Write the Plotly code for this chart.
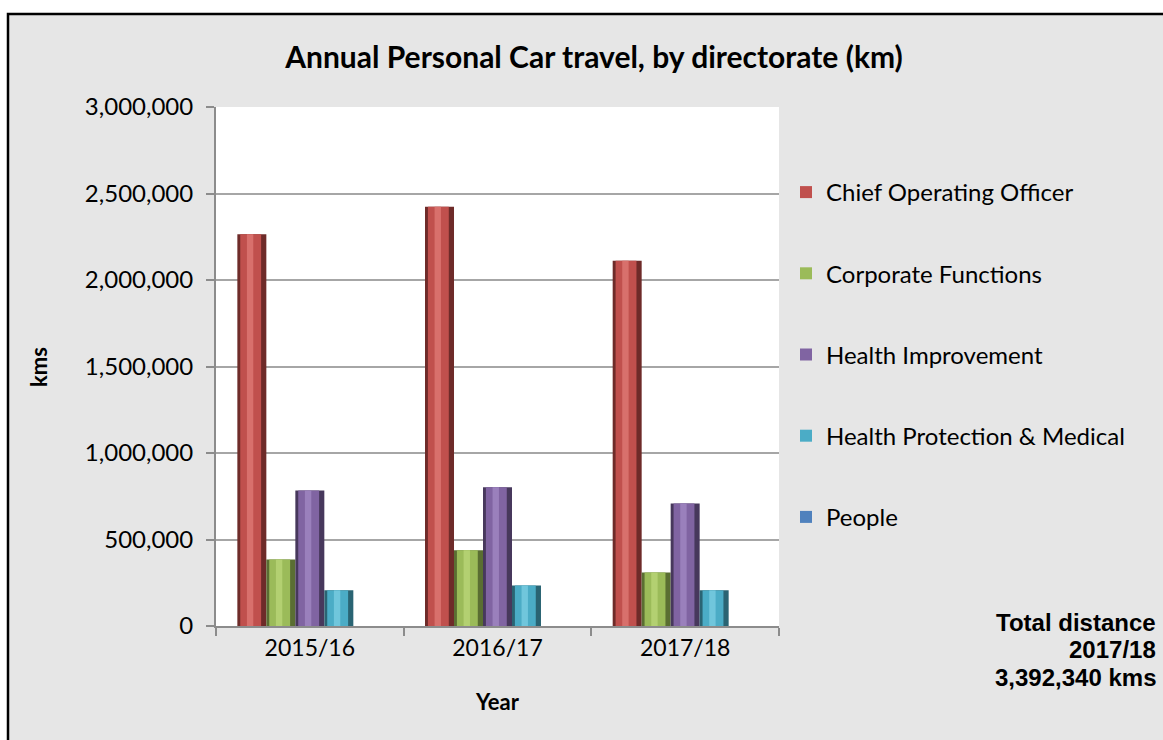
import plotly.graph_objects as go

years = ["2015/16", "2016/17", "2017/18"]
series_names = ["Chief Operating Officer", "Corporate Functions", "Health Improvement",
                "Health Protection & Medical", "People"]
coo = [2265000, 2423000, 2111000]
corp = [384000, 438000, 309000]
health_imp = [783000, 802000, 708000]
health_prot = [206000, 234000, 206000]
people = [0, 0, 0]
series_values = [coo, corp, health_imp, health_prot, people]

main_colors = ["#C0504D", "#9BBB59", "#8064A2", "#4BACC6", "#4F81BD"]
dark_colors = ["#6E2B29", "#5A6E32", "#47385C", "#2A6473", "#2E4B6E"]
light_colors = ["#D8706C", "#B3D071", "#9A80BC", "#70C6DC", "#6F9ED5"]

W = 0.1545
START = -2.5 * W

fig = go.Figure()
for i, (name, vals) in enumerate(zip(series_names, series_values)):
    off = START + i * W
    fig.add_trace(go.Bar(x=years, y=vals, width=W, offset=off, marker_color=dark_colors[i],
                         marker_line_width=0, showlegend=False, hoverinfo="skip"))
    fig.add_trace(go.Bar(x=years, y=vals, width=W * 0.72, offset=off + W * 0.1,
                         marker_color=main_colors[i], marker_line_width=0,
                         name=name, legendgroup=name))
    fig.add_trace(go.Bar(x=years, y=vals, width=W * 0.22, offset=off + W * 0.33,
                         marker_color=light_colors[i], marker_line_width=0,
                         showlegend=False, hoverinfo="skip"))

OX, OY = 0, 0
FW, FH = 1163, 740
L, R, T, B = 216, 779, 107, 626   # plot area in page pixels
PW, PH = R - L, B - T
def px(x):
    return (x - L) / PW
def py(y):
    return (B - y) / PH

shapes = [
    dict(type="rect", xref="paper", yref="paper", x0=px(8), x1=px(1185), y0=py(14), y1=py(770),
         fillcolor="#E6E6E6", line=dict(color="black", width=2.5), layer="below"),
    dict(type="rect", xref="paper", yref="paper", x0=0, x1=1, y0=0, y1=1,
         fillcolor="white", line=dict(width=0), layer="below"),
]

def ann(text, x, y, size, family="Lato", xanchor="center", angle=0):
    return dict(text=text, x=px(x), y=py(y), xref="paper", yref="paper", showarrow=False,
                xanchor=xanchor, yanchor="middle", textangle=angle,
                font=dict(family=family, size=size, color="black"))

annotations = [
    ann("<b>kms</b>", 38, 367, 22, angle=-90),
    ann("<b>Year</b>", 497, 701, 22),
    ann("<b>Total distance</b>", 1158, 622, 24, family="Liberation Sans", xanchor="right"),
    ann("<b>2017/18</b>", 1158, 649, 24, family="Liberation Sans", xanchor="right"),
    ann("<b>3,392,340 kms</b>", 1158, 677, 24, family="Liberation Sans", xanchor="right"),
]

fig.update_layout(
    width=FW, height=FH,
    margin=dict(l=L - OX, r=FW - (R - OX), t=T - OY, b=FH - (B - OY), autoexpand=False),
    paper_bgcolor="white", plot_bgcolor="rgba(0,0,0,0)",
    barmode="overlay",
    title=dict(text="<b>Annual Personal Car travel, by directorate (km)</b>", x=px(594), xanchor="center",
               xref="paper", y=1 - (57 - OY) / FH, yanchor="middle",
               font=dict(family="Lato", size=30, color="black")),
    font=dict(family="Lato", size=23, color="black"),
    shapes=shapes, annotations=annotations,
    legend=dict(x=px(786), y=py(170), yanchor="top", xanchor="left",
                font=dict(family="Lato", size=24, color="black"),
                bgcolor="rgba(0,0,0,0)", tracegroupgap=47),
    xaxis=dict(type="category", range=[-0.5, 2.5], showline=True, linecolor="#8C8C8C", linewidth=2,
               ticks="outside", tickson="boundaries", ticklen=8, tickcolor="#8C8C8C", tickwidth=2,
               showgrid=False, tickfont=dict(size=23)),
    yaxis=dict(range=[0, 3000000], dtick=500000, tickformat=",", showline=True, linecolor="#8C8C8C",
               linewidth=2, ticks="outside", ticklen=8, tickcolor="#8C8C8C", tickwidth=2,
               showgrid=True, gridcolor="#A6A6A6", gridwidth=2, zeroline=False,
               tickfont=dict(size=24), ticklabelstandoff=8),
)

fig.write_html("out.html", config={"displayModeBar": False},
               post_script="document.body.style.margin='0';document.body.style.overflow='hidden';")
